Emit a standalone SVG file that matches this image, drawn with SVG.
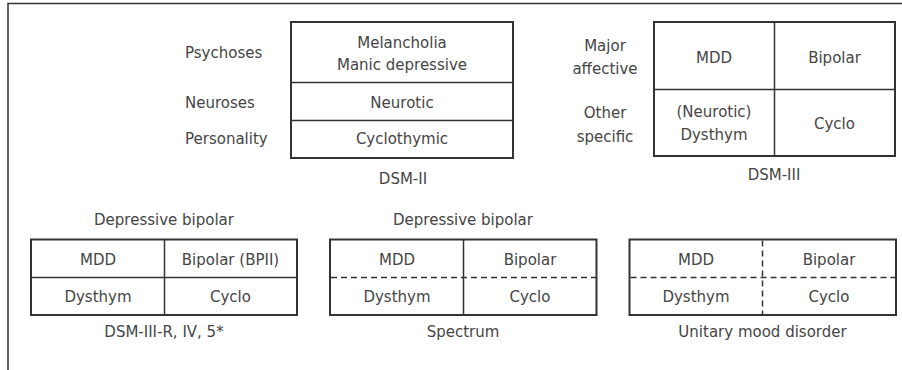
<svg xmlns="http://www.w3.org/2000/svg" width="902" height="370" viewBox="0 0 902 370">
<style>
text{font-family:"DejaVu Sans","Liberation Sans",sans-serif;font-size:15px;fill:#454545;text-anchor:middle}
.l{text-anchor:start}
.box{fill:none;stroke:#333;stroke-width:2}
.div{stroke:#333;stroke-width:1.5;fill:none}
.dash{stroke:#333;stroke-width:1.5;stroke-dasharray:6 4;fill:none}
.frame{stroke:#333;stroke-width:1.5;fill:none}
</style>
<rect width="902" height="370" fill="#fff"/>
<path class="frame" d="M8 370 V3.5 H902"/>

<g id="dsm2">
<rect class="box" x="291" y="22" width="222" height="136"/>
<line class="div" x1="291" y1="82.5" x2="513" y2="82.5"/>
<line class="div" x1="291" y1="120.5" x2="513" y2="120.5"/>
<text x="185" y="58" class="l">Psychoses</text>
<text x="185" y="108" class="l">Neuroses</text>
<text x="185" y="144" class="l">Personality</text>
<text x="402" y="48">Melancholia</text>
<text x="402" y="69.5">Manic depressive</text>
<text x="402" y="108">Neurotic</text>
<text x="402" y="144">Cyclothymic</text>
<text x="403" y="184">DSM-II</text>
</g>

<g id="dsm3">
<rect class="box" x="654" y="22" width="241" height="134"/>
<line class="div" x1="774.5" y1="22" x2="774.5" y2="156"/>
<line class="div" x1="654" y1="89.5" x2="895" y2="89.5"/>
<text x="605" y="51">Major</text>
<text x="605" y="74">affective</text>
<text x="605" y="118">Other</text>
<text x="605" y="142">specific</text>
<text x="714" y="63">MDD</text>
<text x="834.5" y="63">Bipolar</text>
<text x="714" y="117">(Neurotic)</text>
<text x="714" y="140">Dysthym</text>
<text x="834.5" y="129">Cyclo</text>
<text x="774" y="180">DSM-III</text>
</g>

<g id="dsm3r">
<text x="164" y="225">Depressive bipolar</text>
<rect class="box" x="31" y="239.5" width="266" height="75.5"/>
<line class="div" x1="164.5" y1="239.5" x2="164.5" y2="315"/>
<line class="div" x1="31" y1="277.5" x2="297" y2="277.5"/>
<text x="98" y="265">MDD</text>
<text x="230.5" y="265">Bipolar (BPII)</text>
<text x="98" y="301.5">Dysthym</text>
<text x="230.5" y="301.5">Cyclo</text>
<text x="164" y="336.5">DSM-III-R, IV, 5*</text>
</g>

<g id="spectrum">
<text x="463" y="225">Depressive bipolar</text>
<rect class="box" x="330" y="239.5" width="266.5" height="75.5"/>
<line class="div" x1="463.5" y1="239.5" x2="463.5" y2="315"/>
<line class="dash" x1="331" y1="277.5" x2="596" y2="277.5"/>
<text x="397" y="265">MDD</text>
<text x="530" y="265">Bipolar</text>
<text x="397" y="301.5">Dysthym</text>
<text x="530" y="301.5">Cyclo</text>
<text x="463" y="336.5">Spectrum</text>
</g>

<g id="unitary">
<rect class="box" x="629.5" y="239.5" width="266.5" height="75.5"/>
<line class="dash" x1="762.5" y1="240.5" x2="762.5" y2="314"/>
<line class="dash" x1="630.5" y1="277.5" x2="895" y2="277.5"/>
<text x="696" y="265">MDD</text>
<text x="829" y="265">Bipolar</text>
<text x="696" y="301.5">Dysthym</text>
<text x="829" y="301.5">Cyclo</text>
<text x="762.5" y="336.5">Unitary mood disorder</text>
</g>
</svg>
